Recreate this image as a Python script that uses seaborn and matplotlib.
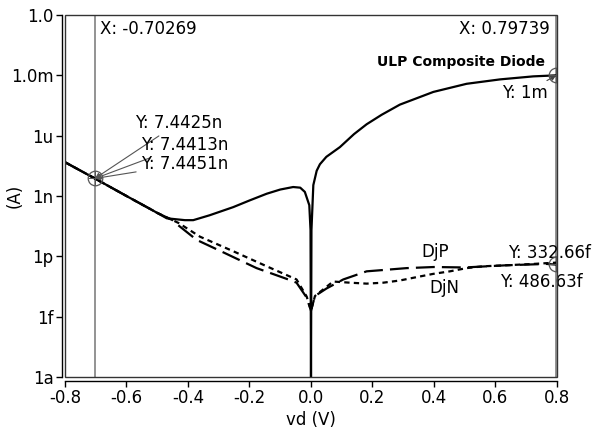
import numpy as np
import pandas as pd
import matplotlib
matplotlib.use("Agg")
import matplotlib.pyplot as plt
from matplotlib.patches import Rectangle
import seaborn as sns

# ---------------- Data ----------------
vd_ulp = [-0.8, -0.7027, -0.6, -0.5236, -0.469, -0.41, -0.383, -0.33, -0.253, -0.2,
          -0.144, -0.1, -0.058, -0.035, -0.02, -0.0055, -0.0015, 0.0, 0.0015, 0.0076,
          0.0185, 0.029, 0.05, 0.094, 0.14, 0.181, 0.23, 0.289, 0.398, 0.506, 0.615,
          0.723, 0.797]
i_ulp = [4.8e-8, 7.44e-9, 1.0e-9, 2.3e-10, 7.8e-11, 6.3e-11, 6.3e-11, 1.1e-10, 2.8e-10, 6.0e-10,
         1.3e-9, 2.1e-9, 2.8e-9, 2.6e-9, 1.6e-9, 3.5e-10, 2e-11, 1e-18, 2e-11, 3.5e-9,
         1.8e-8, 3.8e-8, 8.9e-8, 2.7e-7, 1.2e-6, 3.7e-6, 1.1e-5, 3.5e-5, 1.5e-4, 3.8e-4, 6.3e-4,
         8.9e-4, 1.0e-3]

vd_djp = [-0.8, -0.7027, -0.6, -0.5, -0.45, -0.4325, -0.372, -0.28, -0.177, -0.074,
          -0.047, -0.014, 0.0, 0.013, 0.05, 0.105, 0.181, 0.219, 0.311, 0.40,
          0.50, 0.636, 0.766, 0.797]
i_djp = [4.8e-8, 7.44e-9, 1.0e-9, 1.45e-10, 6.3e-11, 3.6e-11, 6.6e-12, 1.45e-12, 2.6e-13, 7.1e-14,
         4.9e-14, 8.9e-15, 2.0e-15, 1.07e-14, 2.5e-14, 7.1e-14, 1.8e-13, 2.0e-13, 2.6e-13, 2.95e-13,
         2.8e-13, 3.6e-13, 4.2e-13, 3.9e-13]

vd_djn = [-0.8, -0.7027, -0.6, -0.5, -0.45, -0.43, -0.361, -0.253, -0.144, -0.047,
          -0.014, 0.0, 0.013, 0.072, 0.127, 0.181, 0.235, 0.289, 0.344, 0.398,
          0.452, 0.506, 0.56, 0.636, 0.723, 0.797]
i_djn = [4.8e-8, 7.44e-9, 1.0e-9, 1.45e-10, 6.3e-11, 4.5e-11, 9.5e-12, 1.8e-12, 3.2e-13, 7.1e-14,
         1.0e-14, 2.0e-15, 1.07e-14, 5.6e-14, 4.9e-14, 4.4e-14, 4.9e-14, 6.3e-14, 9.3e-14, 1.35e-13,
         1.8e-13, 2.6e-13, 3.2e-13, 3.6e-13, 4.2e-13, 4.87e-13]

y_ticks = [1e-18, 1e-15, 1e-12, 1e-9, 1e-6, 1e-3, 1.0]
y_tick_labels = ["1a", "1f", "1p", "1n", "1u", "1.0m", "1.0"]
x_ticks = [-0.8, -0.6, -0.4, -0.2, 0.0, 0.2, 0.4, 0.6, 0.8]

cursor_left = -0.70269
cursor_right = 0.79739
left_marks = ["Y: 7.4425n", "Y: 7.4413n", "Y: 7.4451n"]

# ---------------- Setup ----------------
sns.set_style("white")
plt.rcParams["font.family"] = ["DejaVu Sans"]
plt.rcParams["font.size"] = 12
plt.rcParams["text.color"] = "black"
plt.rcParams["axes.labelcolor"] = "black"
plt.rcParams["xtick.color"] = "black"
plt.rcParams["ytick.color"] = "black"

fig = plt.figure(figsize=(5.98, 4.34), dpi=100)
ax = fig.add_axes([0.1087, 0.1313, 0.8227, 0.8341])
ax.set_yscale("log")

df_ulp = pd.DataFrame({"vd": vd_ulp, "I": i_ulp})
df_djp = pd.DataFrame({"vd": vd_djp, "I": i_djp})
df_djn = pd.DataFrame({"vd": vd_djn, "I": i_djn})

sns.lineplot(data=df_djn, x="vd", y="I", ax=ax, color="black", lw=1.6,
             linestyle=(0, (2.4, 1.9)), estimator=None, sort=False)
sns.lineplot(data=df_djp, x="vd", y="I", ax=ax, color="black", lw=1.6,
             linestyle=(0, (8.5, 3.2)), estimator=None, sort=False)
sns.lineplot(data=df_ulp, x="vd", y="I", ax=ax, color="black", lw=1.6,
             estimator=None, sort=False)

# cursors
ax.axvline(cursor_left, color="#808080", lw=1.2, zorder=1)
ax.axvline(cursor_right, color="#808080", lw=1.2, zorder=1)

# cursor points
pts_x = [cursor_left, cursor_right, cursor_right]
pts_y = [7.44e-9, 1e-3, 4.3e-13]
ax.plot(pts_x, pts_y, "o", mfc="none", mec="#555555", ms=10.5, mew=0.9, zorder=5)
ax.plot(pts_x, pts_y, "+", color="#555555", ms=10.5, mew=0.7, zorder=5)

ax.set_xlim(-0.8, 0.8)
ax.set_ylim(1e-18, 1.0)
ax.set_xticks(x_ticks)
ax.set_xticklabels([f"{v:.1f}" for v in x_ticks])
ax.set_yticks(y_ticks)
ax.set_yticklabels(y_tick_labels)
ax.minorticks_off()

ax.set_xlabel("vd (V)", fontsize=12)
ax.set_ylabel("(A)", fontsize=12)
ax.xaxis.set_label_coords(0.5, -0.093)
ax.yaxis.set_label_coords(-0.085, 0.5)

# spines: offset axes plus a box
for side in ["top", "right"]:
    ax.spines[side].set_visible(False)
ax.spines["left"].set_position(("outward", 2.2))
ax.spines["bottom"].set_position(("outward", 2.9))
for side in ["left", "bottom"]:
    ax.spines[side].set_color("black")
    ax.spines[side].set_linewidth(1)
ax.add_patch(Rectangle((0, 0), 1, 1, transform=ax.transAxes, fill=False,
                       ec="#333333", lw=1, clip_on=False, zorder=6))
ax.tick_params(axis="both", direction="out", length=4, width=1,
               labelsize=12, pad=2, colors="black", left=True, bottom=True)

# ---------------- Annotations ----------------
ax.text(0.071, 0.961, "X: -0.70269", transform=ax.transAxes, ha="left", va="center")
ax.text(0.986, 0.961, "X: 0.79739", transform=ax.transAxes, ha="right", va="center")
ax.text(0.976, 0.870, "ULP Composite Diode", transform=ax.transAxes,
        ha="right", va="center", fontsize=10, fontweight="bold")

ax.annotate("Y: 1m", xy=(cursor_right, 1e-3), xycoords="data",
            xytext=(0.982, 0.785), textcoords="axes fraction", ha="right", va="center",
            arrowprops=dict(arrowstyle="-|>", color="#444444", lw=0.8,
                            mutation_scale=8, shrinkA=0, shrinkB=0))

left_pos = [(0.142, 0.702), (0.154, 0.641), (0.154, 0.588)]
for label, pos in zip(left_marks, left_pos):
    ax.annotate(label, xy=(cursor_left, 7.44e-9), xycoords="data",
                xytext=pos, textcoords="axes fraction", ha="left", va="center",
                arrowprops=dict(arrowstyle="-|>", color="#555555", lw=0.8,
                                mutation_scale=8, shrinkA=1, shrinkB=0))

ax.text(0.900, 0.343, "Y: 332.66f", transform=ax.transAxes, ha="left", va="center")
ax.text(0.884, 0.262, "Y: 486.63f", transform=ax.transAxes, ha="left", va="center")
ax.text(0.752, 0.345, "DjP", transform=ax.transAxes, ha="center", va="center")
ax.text(0.772, 0.246, "DjN", transform=ax.transAxes, ha="center", va="center")

fig.savefig("out.png", dpi=100)
